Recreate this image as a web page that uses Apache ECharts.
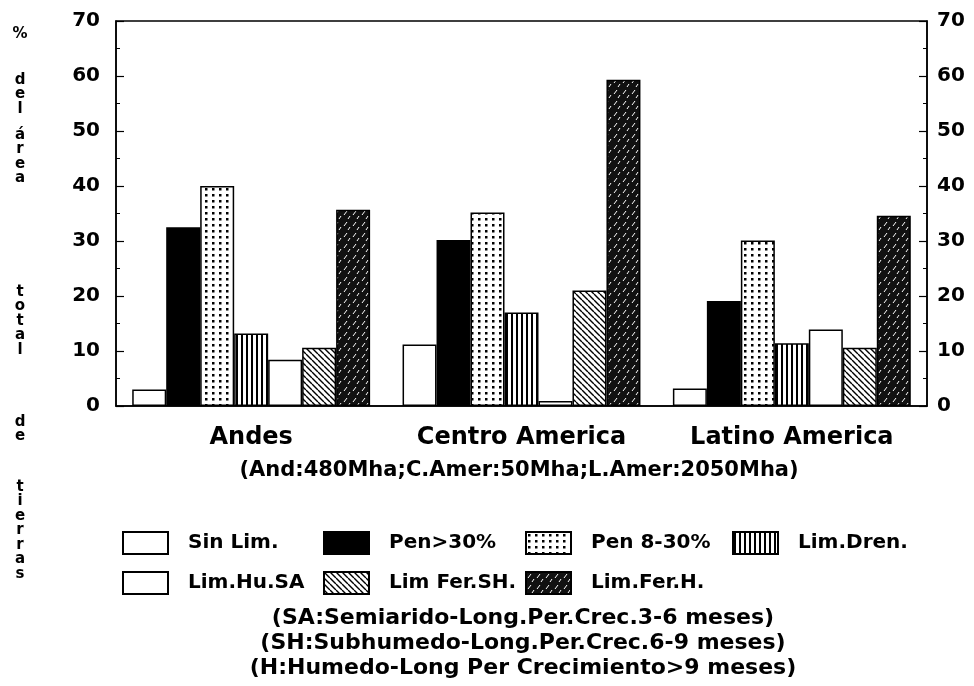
<!DOCTYPE html>
<html>
<head>
<meta charset="utf-8">
<script src="https://cdn.jsdelivr.net/npm/echarts@6/dist/echarts.min.js"></script>
<style>
  html, body { margin: 0; padding: 0; background: #fff; }
  #chart { width: 974px; height: 686px; }
</style>
</head>
<body>
<div id="chart"></div>
<script>
// datos (% del area total de tierras)
const categories = ['Andes', 'Centro America', 'Latino America'];
const seriesNames = ['Sin Lim.', 'Pen>30%', 'Pen 8-30%', 'Lim.Dren.', 'Lim.Hu.SA', 'Lim Fer.SH.', 'Lim.Fer.H.'];
const sinLim = [3, 11.2, 3.2];
const pen30 = [32.5, 30.2, 19.1];
const pen8_30 = [40, 35.2, 30.1];
const limDren = [13.2, 17, 11.4];
const limHuSA = [8.4, 0.9, 13.9];
const limFerSH = [10.6, 21, 10.6];
const limFerH = [35.7, 59.3, 34.6];

const subtitle = '(And:480Mha;C.Amer:50Mha;L.Amer:2050Mha)';
const notes = [
  '(SA:Semiarido-Long.Per.Crec.3-6 meses)',
  '(SH:Subhumedo-Long.Per.Crec.6-9 meses)',
  '(H:Humedo-Long Per Crecimiento>9 meses)'
];
const yTitleWords = ['%', 'del', 'área', 'total', 'de', 'tierras'];

const FONT = 'DejaVu Sans';

// tramas de relleno
function pattern(w, h, draw) {
  const c = document.createElement('canvas');
  c.width = w; c.height = h;
  const ctx = c.getContext('2d');
  draw(ctx, w, h);
  return { image: c, repeat: 'repeat' };
}
const fills = [
  '#fff',
  '#000',
  pattern(7, 6, (ctx, w, h) => {
    ctx.fillStyle = '#fff'; ctx.fillRect(0, 0, w, h);
    ctx.fillStyle = '#000'; ctx.fillRect(2, 2, 2.5, 2.5);
  }),
  pattern(5, 5, (ctx, w, h) => {
    ctx.fillStyle = '#fff'; ctx.fillRect(0, 0, w, h);
    ctx.fillStyle = '#000'; ctx.fillRect(1, 0, 2, h);
  }),
  '#fff',
  pattern(6, 6, (ctx, w, h) => {
    ctx.fillStyle = '#fff'; ctx.fillRect(0, 0, w, h);
    ctx.strokeStyle = '#000'; ctx.lineWidth = 1.4;
    ctx.beginPath();
    [-w, 0, w].forEach(k => { ctx.moveTo(k, 0); ctx.lineTo(k + w, h); });
    ctx.stroke();
  }),
  pattern(9, 11, (ctx, w, h) => {
    ctx.fillStyle = '#111'; ctx.fillRect(0, 0, w, h);
    ctx.strokeStyle = '#fff'; ctx.lineWidth = 1;
    ctx.beginPath();
    ctx.moveTo(2, 6); ctx.lineTo(5, 2);
    ctx.moveTo(6, 10); ctx.lineTo(8, 7);
    ctx.stroke();
  })
];
const values = [sinLim, pen30, pen8_30, limDren, limHuSA, limFerSH, limFerH];

// leyenda en rejilla: columnas y filas
const legendCols = [117, 318, 520, 727];
const legendRows = [526, 566];
const legendCell = [[0, 0], [1, 0], [2, 0], [3, 0], [0, 1], [1, 1], [2, 1]];

const chart = echarts.init(document.getElementById('chart'));

const graphic = [];
// titulo vertical del eje Y, una letra por linea
const wordTops = [34, 80, 135, 292, 422, 487];
yTitleWords.forEach((word, wi) => {
  word.split('').forEach((ch, li) => {
    graphic.push({
      type: 'text', x: 20, y: wordTops[wi] + li * 14.5,
      style: { text: ch, font: 'bold 15px "' + FONT + '"', fill: '#000', align: 'center', verticalAlign: 'middle' }
    });
  });
});
graphic.push({
  type: 'text', x: 519, y: 471,
  style: { text: subtitle, font: 'bold 21px "' + FONT + '"', fill: '#000', align: 'center', verticalAlign: 'middle' }
});
notes.forEach((t, i) => {
  graphic.push({
    type: 'text', x: 523, y: 618 + i * 25,
    style: { text: t, font: 'bold 22px "' + FONT + '"', fill: '#000', align: 'center', verticalAlign: 'middle' }
  });
});

const yAxisCommon = {
  type: 'value', min: 0, max: 70, interval: 10,
  axisLine: { show: true, lineStyle: { color: '#000', width: 1.5 } },
  axisTick: { show: true, inside: true, length: 8, lineStyle: { color: '#000', width: 1.2 } },
  minorTick: { show: true, splitNumber: 2, length: 4, lineStyle: { color: '#000', width: 1 } },
  splitLine: { show: false },
  axisLabel: { color: '#000', fontFamily: FONT, fontSize: 20, fontWeight: 'bold' }
};

chart.setOption({
  backgroundColor: '#fff',
  animation: false,
  grid: {
    left: 116, right: 47, top: 21, bottom: 280,
    show: true, borderColor: '#000', borderWidth: 1.5
  },
  legend: seriesNames.map((name, i) => ({
    data: [name],
    left: legendCols[legendCell[i][0]], top: legendRows[legendCell[i][1]],
    itemWidth: 45, itemHeight: 22,
    icon: 'rect',
    selectedMode: false,
    textStyle: { color: '#000', fontFamily: FONT, fontSize: 20, fontWeight: 'bold', padding: [0, 0, 0, 15] }
  })),
  xAxis: {
    type: 'category',
    data: categories,
    axisLine: { show: true, lineStyle: { color: '#000', width: 1.5 } },
    axisTick: { show: false },
    axisLabel: { color: '#000', fontFamily: FONT, fontSize: 24, fontWeight: 'bold', margin: 20, interval: 0, hideOverlap: false }
  },
  yAxis: [
    Object.assign({ position: 'left' }, yAxisCommon, { axisLabel: Object.assign({}, yAxisCommon.axisLabel, { margin: 16 }) }),
    Object.assign({ position: 'right' }, yAxisCommon, { axisLabel: Object.assign({}, yAxisCommon.axisLabel, { margin: 10 }) })
  ],
  series: seriesNames.map((name, i) => ({
    name: name,
    type: 'bar',
    data: values[i],
    barGap: '0%',
    barCategoryGap: '12%',
    itemStyle: { color: fills[i], borderColor: '#000', borderWidth: 1.5 }
  })),
  graphic: graphic
});
</script>
</body>
</html>
